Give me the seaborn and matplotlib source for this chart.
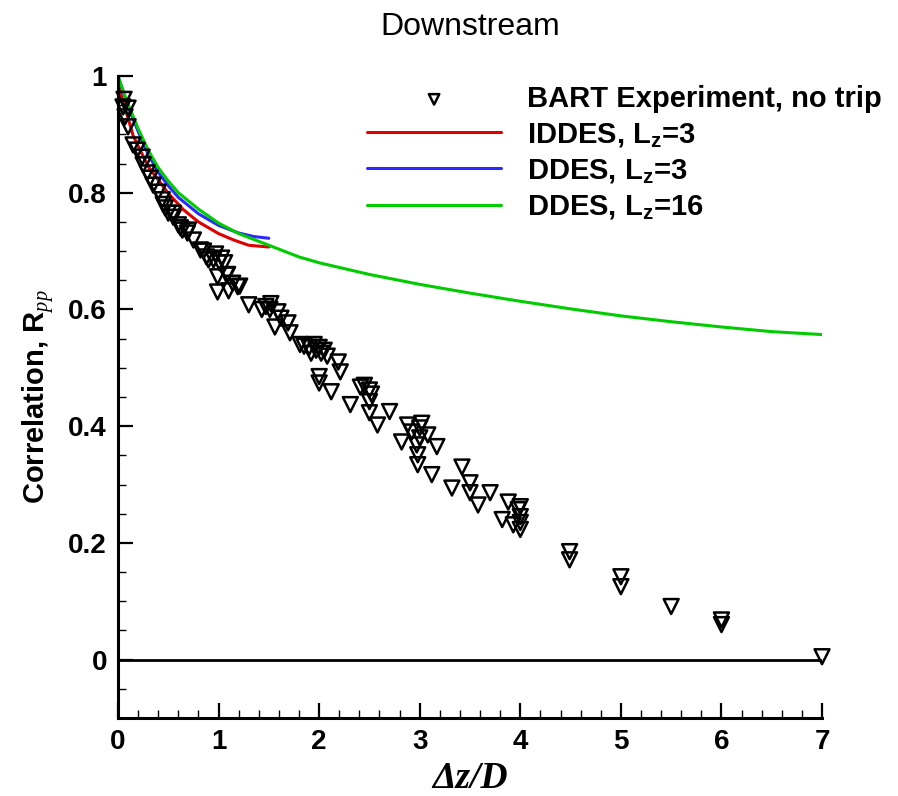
import numpy as np
import pandas as pd
import matplotlib
matplotlib.use("Agg")
import matplotlib.pyplot as plt
from matplotlib.ticker import MultipleLocator
import seaborn as sns

# BART experiment, no trip
exp_dz = [0.05, 0.10, 0.07, 0.10, 0.06, 0.15, 0.19, 0.24, 0.25, 0.29, 0.32, 0.35,
          0.40, 0.44, 0.47, 0.50, 0.55, 0.60, 0.64, 0.70, 0.69, 0.75, 0.82, 0.85,
          0.88, 0.95, 1.01, 0.97, 1.03, 1.06, 0.99, 1.08, 1.09, 1.14, 1.19, 1.21,
          0.99, 1.10, 0.45, 0.55, 0.62, 0.90,
          1.30, 1.43, 1.47, 1.51, 1.52, 1.59, 1.56, 1.69, 1.71, 1.62,
          1.81, 1.85, 1.90, 1.95, 1.97, 2.00, 2.02, 2.05, 2.08, 1.92, 2.19, 2.21,
          2.00, 2.00, 2.12,
          2.31, 2.41, 2.45, 2.50, 2.50, 2.50, 2.52, 2.70, 2.58,
          2.88, 2.92, 3.00, 3.02, 3.08, 2.82, 2.97, 3.00, 3.17, 2.98, 2.98, 3.12,
          3.42, 3.32, 3.50, 3.50, 3.70, 3.58, 3.88, 3.98, 3.82, 3.93, 4.00, 4.00,
          4.00, 4.00,
          4.49, 4.49, 5.00, 5.00, 5.50, 6.00, 6.00, 7.00]
exp_rpp = [0.947, 0.945, 0.930, 0.913, 0.960, 0.882, 0.873, 0.861, 0.848, 0.834, 0.825, 0.813,
           0.801, 0.788, 0.774, 0.765, 0.758, 0.745, 0.736, 0.736, 0.731, 0.719, 0.702, 0.700,
           0.690, 0.685, 0.680, 0.695, 0.688, 0.680, 0.656, 0.659, 0.660, 0.645, 0.639, 0.640,
           0.630, 0.632, 0.780, 0.765, 0.740, 0.685,
           0.608, 0.600, 0.605, 0.600, 0.610, 0.596, 0.570, 0.577, 0.560, 0.585,
           0.540, 0.537, 0.535, 0.540, 0.530, 0.535, 0.525, 0.530, 0.520, 0.525, 0.510, 0.493,
           0.485, 0.474, 0.459,
           0.437, 0.467, 0.470, 0.462, 0.442, 0.423, 0.455, 0.425, 0.402,
           0.402, 0.390, 0.397, 0.405, 0.385, 0.373, 0.368, 0.380, 0.365, 0.351, 0.334, 0.317,
           0.330, 0.294, 0.303, 0.286, 0.286, 0.265, 0.270, 0.257, 0.240, 0.231, 0.223, 0.245,
           0.262, 0.235,
           0.185, 0.171, 0.142, 0.125, 0.091, 0.068, 0.060, 0.005]

# IDDES, Lz=3
iddes3_dz = [0.0, 0.05, 0.10, 0.15, 0.30, 0.50, 0.65, 0.80, 1.00, 1.15, 1.30, 1.50]
iddes3_rpp = [0.99, 0.955, 0.928, 0.898, 0.845, 0.799, 0.771, 0.750, 0.730, 0.719, 0.710, 0.707]

# DDES, Lz=3
ddes3_dz = [0.0, 0.10, 0.20, 0.30, 0.40, 0.50, 0.60, 0.80, 1.00, 1.20, 1.35, 1.50]
ddes3_rpp = [1.0, 0.948, 0.905, 0.866, 0.835, 0.812, 0.792, 0.764, 0.744, 0.731, 0.725, 0.722]

# DDES, Lz=16
ddes16_dz = [0.0, 0.05, 0.10, 0.20, 0.30, 0.40, 0.50, 0.60, 0.80, 1.00, 1.20, 1.50,
             1.80, 2.00, 2.50, 3.00, 3.50, 4.00, 4.50, 5.00, 5.50, 6.00, 6.50, 7.00]
ddes16_rpp = [1.0, 0.975, 0.952, 0.910, 0.873, 0.843, 0.820, 0.800, 0.772, 0.748, 0.730, 0.710,
              0.690, 0.680, 0.660, 0.643, 0.628, 0.614, 0.601, 0.589, 0.579, 0.570, 0.562, 0.557]

series_labels = ["IDDES, L$_\\mathrm{z}$=3", "DDES, L$_\\mathrm{z}$=3", "DDES, L$_\\mathrm{z}$=16"]
series_colors = ["#e00000", "#2a2aff", "#00cc00"]

sns.set_style("ticks")
plt.rcParams["font.family"] = ["Liberation Sans", "DejaVu Sans"]
plt.rcParams["mathtext.fontset"] = "custom"
plt.rcParams["mathtext.rm"] = "Liberation Sans:bold"
plt.rcParams["mathtext.bf"] = "Liberation Sans:bold"
plt.rcParams["mathtext.it"] = "Liberation Serif:italic"
for key in ["text.color", "axes.labelcolor", "xtick.color", "ytick.color", "axes.edgecolor"]:
    plt.rcParams[key] = "black"

fig = plt.figure(figsize=(8.98, 7.96), dpi=100)
ax = fig.add_axes([0.1314, 0.098, 0.784, 0.8065])

lines = pd.concat([
    pd.DataFrame({"dz": iddes3_dz, "rpp": iddes3_rpp, "case": series_labels[0]}),
    pd.DataFrame({"dz": ddes3_dz, "rpp": ddes3_rpp, "case": series_labels[1]}),
    pd.DataFrame({"dz": ddes16_dz, "rpp": ddes16_rpp, "case": series_labels[2]}),
])
exp = pd.DataFrame({"dz": exp_dz, "rpp": exp_rpp})

ax.axhline(0, color="black", lw=2, zorder=1)
sns.scatterplot(data=exp, x="dz", y="rpp", ax=ax, marker="v", s=115,
                facecolors="none", edgecolor="black", linewidth=1.8,
                label="BART Experiment, no trip", zorder=3, clip_on=False)
sns.lineplot(data=lines, x="dz", y="rpp", hue="case", palette=series_colors,
             hue_order=series_labels, sort=False, estimator=None, lw=2.2, ax=ax, zorder=2)

ax.set_xlim(0, 7)
ax.set_ylim(-0.1, 1)
ax.xaxis.set_major_locator(MultipleLocator(1))
ax.xaxis.set_minor_locator(MultipleLocator(0.2))
ax.yaxis.set_minor_locator(MultipleLocator(0.05))
ax.set_yticks([0, 0.2, 0.4, 0.6, 0.8, 1.0])
ax.set_yticklabels(["0", "0.2", "0.4", "0.6", "0.8", "1"])
ax.tick_params(which="major", direction="in", length=11, width=1.6, labelsize=20, pad=8)
ax.tick_params(which="minor", direction="in", length=6, width=1)
for lbl in ax.get_xticklabels() + ax.get_yticklabels():
    lbl.set_fontweight("bold")
sns.despine(ax=ax)
for sp in ["left", "bottom"]:
    ax.spines[sp].set_linewidth(2.2)

ax.set_ylabel("Correlation, R$_{pp}$", fontsize=21, fontweight="bold", labelpad=8)
ax.set_xlabel("\u0394z/D", fontsize=27, family="Liberation Serif", style="italic",
              fontweight="bold", labelpad=4)
fig.text(0.5234, 0.966, "Downstream", ha="center", va="center", fontsize=23)

handles, labels = ax.get_legend_handles_labels()
leg = ax.legend(handles, labels, loc="upper left", bbox_to_anchor=(367 / 898, 1 - 85 / 796),
                bbox_transform=fig.transFigure, frameon=False, borderpad=0, borderaxespad=0,
                handlelength=4.6, handletextpad=0.9, labelspacing=0.26, markerscale=0.7,
                prop={"size": 21, "weight": "bold"})

fig.savefig("out.png", dpi=100)
